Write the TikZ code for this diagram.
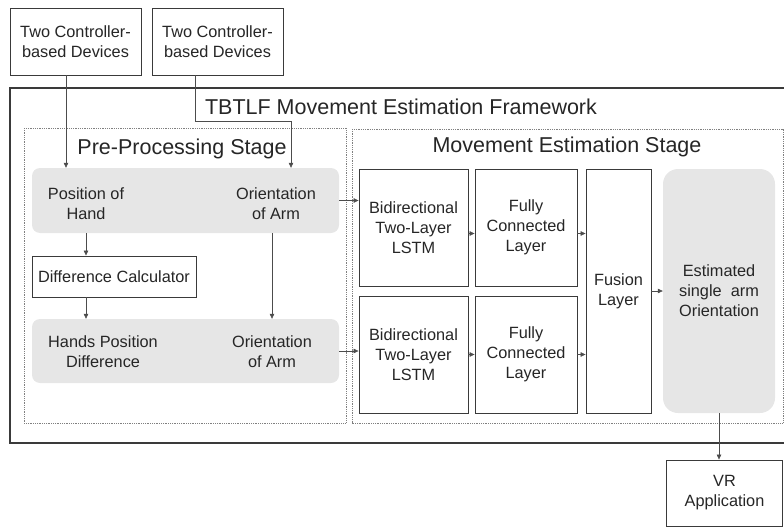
\documentclass[tikz,border=0pt]{standalone}
\usepackage{fontspec}
\setmainfont{Liberation Sans}
\usetikzlibrary{arrows.meta}
\definecolor{boxgray}{HTML}{E6E6E6}
\definecolor{linegray}{HTML}{3A3A3A}
\begin{document}
\begin{tikzpicture}[x=1pt,y=-1pt,
  txt/.style={font=\fontsize{16.3}{20}\selectfont,text=black!85,align=center,inner sep=0pt},
  ttl/.style={font=\fontsize{21.5}{26}\selectfont,text=black!85,inner sep=0pt},
  blk/.style={txt,draw=linegray,line width=0.9pt,fill=white},
  shade/.style={fill=boxgray,rounded corners=8pt,inner sep=0pt},
  stagebox/.style={draw=gray,densely dotted,line width=0.8pt},
  arr/.style={draw=black!70,line width=0.6pt,-{Triangle[length=5pt,width=4.5pt]}}]
\useasboundingbox (0,0) rectangle (784,527);

% input devices
\node[blk,minimum width=131pt,minimum height=67pt] (dev1) at (75.5,41.5) {Two Controller-\\based Devices};
\node[blk,minimum width=131pt,minimum height=67pt] (dev2) at (217.5,41.5) {Two Controller-\\based Devices};

% framework and stages
\draw[linegray,line width=1.1pt] (10,88) rectangle (792,443);
\node[ttl] (frame) at (401,107) {TBTLF Movement Estimation Framework};
\draw[stagebox] (24,128) rectangle (346,423);
\draw[stagebox] (352,129) rectangle (783,423);
\node[ttl] (pretitle) at (182,149) {Pre-Processing Stage};
\node[ttl] (movtitle) at (567,147) {Movement Estimation Stage};

% pre-processing
\node[shade,minimum width=307pt,minimum height=65pt] (prepA) at (185.5,200.5) {};
\node[shade,minimum width=307pt,minimum height=64pt] (prepB) at (185.5,351) {};
\node[txt] (posH) at (86,203.5) {Position of\\Hand};
\node[txt] (oriA) at (276,203.5) {Orientation\\of Arm};
\node[txt] (hpd) at (103,352) {Hands Position\\Difference};
\node[txt] (oriB) at (272,352) {Orientation\\of Arm};
\node[blk,minimum width=164pt,minimum height=41pt] (dc) at (114,276.5) {Difference Calculator};

% movement estimation
\node[blk,minimum width=109pt,minimum height=117pt] (lstmA) at (413.5,227.5) {Bidirectional\\Two-Layer\\LSTM};
\node[blk,minimum width=102pt,minimum height=117pt] (fcA) at (526,227.5) {Fully\\Connected\\Layer};
\node[blk,minimum width=109pt,minimum height=117pt] (lstmB) at (413.5,354.5) {Bidirectional\\Two-Layer\\LSTM};
\node[blk,minimum width=102pt,minimum height=117pt] (fcB) at (526,354.5) {Fully\\Connected\\Layer};
\node[blk,minimum width=65pt,minimum height=244pt] (fusion) at (618.5,291) {Fusion\\Layer};
\node[txt,fill=boxgray,rounded corners=15pt,minimum width=112pt,minimum height=244pt] (est) at (719,291) {Estimated\\single\ \ arm\\Orientation};

% output
\node[blk,minimum width=116pt,minimum height=66pt] (vr) at (724.5,493) {VR\\Application};

% arrows
\coordinate (dA) at (66,0);
\coordinate (dBend) at (291,121);
\coordinate (rowA) at (0,233.5);
\draw[arr] (dev1.south -| dA) -- (prepA.north -| dA);
\draw[arr] (dev2.south -| 195,0) |- (dBend) -- (prepA.north -| dBend);
\draw[arr] (prepA.south -| posH) -- (dc.north -| posH);
\draw[arr] (dc.south -| posH) -- (prepB.north -| posH);
\draw[arr] (prepA.south -| oriB) -- (prepB.north -| oriB);
\draw[arr] (prepA.east) -- (lstmA.west |- prepA.east);
\draw[arr] (prepB.east) -- (lstmB.west |- prepB.east);
\draw[arr] (lstmA.east |- rowA) -- (fcA.west |- rowA);
\draw[arr] (fcA.east |- rowA) -- (fusion.west |- rowA);
\draw[arr] (lstmB.east) -- (fcB.west);
\draw[arr] (fcB.east) -- (fusion.west |- fcB.east);
\draw[arr] (fusion.east) -- (est.west);
\draw[arr] (est.south) -- (vr.north -| est.south);
\end{tikzpicture}
\end{document}
